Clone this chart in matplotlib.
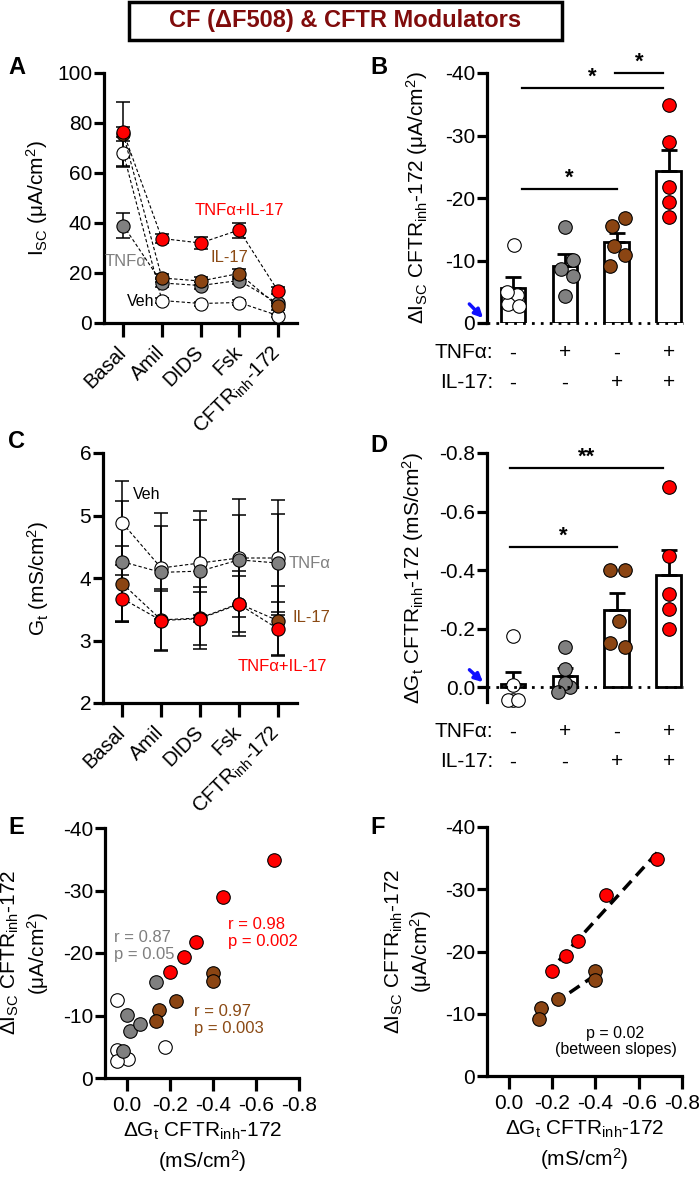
import numpy as np
import matplotlib
matplotlib.use('Agg')
import matplotlib.pyplot as plt
from matplotlib.patches import Rectangle

plt.rcParams['font.family'] = ['Liberation Sans', 'DejaVu Sans']
plt.rcParams['mathtext.default'] = 'regular'
plt.rcParams['axes.unicode_minus'] = False

RED = '#ff0000'
BROWN = '#8b4513'
GRAY = '#808080'
TXT_BROWN = '#8b4a14'
TXT_GRAY = '#7f7f7f'
colors = ['white', GRAY, BROWN, RED]

steps = ['Basal', 'Amil', 'DIDS', 'Fsk', 'CFTR$_{inh}$-172']

# panel A: Isc (uA/cm2), mean and sem per step
isc_veh = [68, 9, 7.8, 8.2, 3]
isc_tnf = [39, 16, 15, 17, 8]
isc_il17 = [75.5, 18, 16.8, 19.8, 6.7]
isc_both = [76.3, 33.8, 32, 37.2, 13]
isc_veh_sem = [5, 1, 0.8, 1, 0.5]
isc_tnf_sem = [5, 1.5, 1.5, 1.5, 1]
isc_il17_sem = [13, 1.5, 1.5, 2, 1.5]
isc_both_sem = [2, 1.9, 2.3, 3, 1.5]

# panel C: Gt (mS/cm2)
gt_veh = [4.88, 4.16, 4.24, 4.32, 4.32]
gt_tnf = [4.26, 4.09, 4.11, 4.29, 4.24]
gt_il17 = [3.91, 3.33, 3.36, 3.59, 3.32]
gt_both = [3.67, 3.32, 3.35, 3.58, 3.19]
gt_veh_sem = [0.67, 0.88, 0.83, 0.95, 0.92]
gt_tnf_sem = [0.97, 0.74, 0.82, 0.72, 0.79]
gt_il17_sem = [0.6, 0.5, 0.5, 0.52, 0.55]
gt_both_sem = [0.38, 0.47, 0.42, 0.45, 0.43]

# individual inserts: delta Isc and delta Gt after CFTRinh-172
d_isc_veh = [-12.5, -4.5, -3.0, -2.7, -5.0]
d_isc_tnf = [-15.3, -10.1, -7.6, -8.6, -4.3]
d_isc_il17 = [-16.8, -15.5, -12.4, -10.9, -9.2]
d_isc_both = [-34.9, -29.0, -21.7, -19.3, -16.9]
d_gt_veh = [0.043, 0.043, -0.008, 0.043, -0.177]
d_gt_tnf = [-0.138, 0.0, -0.015, -0.062, 0.015]
d_gt_il17 = [-0.40, -0.40, -0.228, -0.151, -0.138]
d_gt_both = [-0.685, -0.449, -0.32, -0.266, -0.20]

tnf_signs = ['-', '+', '-', '+']
il17_signs = ['-', '-', '+', '+']

# horizontal scatter of dots in bar panels
jit_b = [[0.02, 0.08, -0.10, 0.12, -0.12], [0.0, 0.16, 0.16, -0.08, 0.0],
         [0.16, -0.10, -0.06, 0.16, -0.13], [0, 0, 0, 0, 0]]
jit_d = [[0.0, -0.10, 0.0, 0.10, 0.0], [0.0, 0.10, 0.0, 0.0, -0.13],
         [-0.13, 0.16, 0.03, -0.13, 0.16], [0, 0, 0, 0, 0]]

FS = 15
W, H = 700, 1181
fig = plt.figure(figsize=(7, 11.81), dpi=100)


def ax_px(l, t, r, b):
    return fig.add_axes([l / W, 1 - b / H, (r - l) / W, (b - t) / H])


def style(ax, bottom=True):
    ax.spines['top'].set_visible(False)
    ax.spines['right'].set_visible(False)
    ax.spines['left'].set_linewidth(2.3)
    ax.spines['bottom'].set_linewidth(2.3)
    if not bottom:
        ax.spines['bottom'].set_visible(False)
    ax.tick_params(width=2.3, length=7, labelsize=FS, direction='out', pad=1.5)


# title
fig.add_artist(Rectangle((129 / W, 1 - 40 / H), 433 / W, 38 / H, transform=fig.transFigure,
                         fc='white', ec='black', lw=2.5))
fig.text(345 / W, 1 - 21 / H, 'CF (ΔF508) & CFTR Modulators', ha='center', va='center',
         fontsize=17, fontweight='bold', color='#800c0c')

# panel letters
for lt, (px, py) in zip('ABCDEF', [(8, 67), (370, 67), (8, 442), (370, 445), (8, 827), (370, 827)]):
    fig.text(px / W, 1 - py / H, lt, fontsize=17, fontweight='bold', va='center')


def line_panel(ax, means, sems):
    x = np.arange(len(steps))
    for i, (m, s, c) in enumerate(zip(means, sems, colors)):
        ax.errorbar(x, m, yerr=s, fmt='none', ecolor='black', elinewidth=1.1,
                    capsize=5, capthick=1.1, zorder=2)
        ax.plot(x, m, ls=(0, (3, 2)), color='black', lw=0.8, zorder=3 + i)
        ax.plot(x, m, 'o', ms=9.5, mfc=c, mec='black', mew=0.8, zorder=3 + i)
    ax.set_xlim(-0.5, 4.5)
    ax.set_xticks(x)
    ax.set_xticklabels(steps, rotation=45, ha='right', va='center', rotation_mode='anchor')
    style(ax)
    ax.tick_params(axis='x', length=10, pad=9, labelsize=14.5)


# ---- A
axA = ax_px(104, 73, 297, 323)
line_panel(axA, [isc_veh, isc_tnf, isc_il17, isc_both],
           [isc_veh_sem, isc_tnf_sem, isc_il17_sem, isc_both_sem])
axA.set_ylim(0, 100)
axA.set_yticks(range(0, 101, 20))
axA.set_ylabel('I$_{SC}$ (μA/cm$^2$)', fontsize=FS)
axA.yaxis.set_label_coords(-0.28, 0.5)
axA.text(3.0, 45, 'TNFα+IL-17', color=RED, fontsize=12, ha='center', va='center')
axA.text(2.76, 26, 'IL-17', color=TXT_BROWN, fontsize=12, ha='center', va='center')
axA.text(0.05, 24.4, 'TNFα', color=TXT_GRAY, fontsize=12, ha='center', va='center')
axA.text(0.44, 8.8, 'Veh', color='black', fontsize=11.5, ha='center', va='center')

# ---- C
axC = ax_px(103, 453, 297, 703)
line_panel(axC, [gt_veh, gt_tnf, gt_il17, gt_both],
           [gt_veh_sem, gt_tnf_sem, gt_il17_sem, gt_both_sem])
axC.set_ylim(2, 6)
axC.set_yticks(range(2, 7))
axC.set_ylabel('G$_t$ (mS/cm$^2$)', fontsize=FS)
axC.yaxis.set_label_coords(-0.27, 0.5)
axC.text(0.62, 5.33, 'Veh', color='black', fontsize=11.5, ha='center', va='center')
axC.text(4.82, 4.24, 'TNFα', color=TXT_GRAY, fontsize=12, ha='center', va='center')
axC.text(4.87, 3.36, 'IL-17', color=TXT_BROWN, fontsize=12, ha='center', va='center')
axC.text(4.12, 2.58, 'TNFα+IL-17', color=RED, fontsize=12, ha='center', va='center')


def bar_panel(ax, vals, jit):
    xb = np.arange(4)
    means = np.array([np.mean(v) for v in vals])
    sems = np.array([np.std(v, ddof=1) / np.sqrt(len(v)) for v in vals])
    ax.bar(xb, means, width=0.48, color='white', edgecolor='black', lw=2, zorder=2)
    ax.errorbar(xb, means, yerr=[sems, np.zeros(4)], fmt='none', ecolor='black',
                elinewidth=2, capsize=6, capthick=2, zorder=3)
    for i, (v, c) in enumerate(zip(vals, colors)):
        ax.scatter(xb[i] + np.array(jit[i]), v, s=95, c=c, edgecolors='black',
                   linewidths=0.8, zorder=4, clip_on=False)
    ax.axhline(0, ls=(0, (1, 2.2)), color='black', lw=2, zorder=5, clip_on=False)
    ax.set_xlim(-0.5, 3.27)
    ax.set_xticks([])
    style(ax, bottom=False)
    for i in range(4):
        ax.text(xb[i], -0.12, tnf_signs[i], transform=ax.get_xaxis_transform(),
                ha='center', va='center', fontsize=FS)
        ax.text(xb[i], -0.24, il17_signs[i], transform=ax.get_xaxis_transform(),
                ha='center', va='center', fontsize=FS)
    ax.text(0.03, -0.12, 'TNFα:', transform=ax.transAxes, ha='right', va='center', fontsize=FS)
    ax.text(0.03, -0.24, 'IL-17:', transform=ax.transAxes, ha='right', va='center', fontsize=FS)


def sig(ax, x0, x1, y, label):
    ax.plot([x0, x1], [y, y], color='black', lw=1.6, clip_on=False)
    ax.text((x0 + x1) / 2, y, label, ha='center', va='bottom', fontsize=16,
            fontweight='bold')


# ---- B
axB = ax_px(487, 73, 683, 323)
bar_panel(axB, [d_isc_veh, d_isc_tnf, d_isc_il17, d_isc_both], jit_b)
axB.set_ylim(0, -40)
axB.set_yticks([0, -10, -20, -30, -40])
axB.set_ylabel('ΔI$_{SC}$ CFTR$_{inh}$-172 (μA/cm$^2$)', fontsize=FS)
axB.yaxis.set_label_coords(-0.29, 0.5)
sig(axB, 0.17, 2.0, -21.5, '*')
sig(axB, 0.17, 2.88, -37.6, '*')
sig(axB, 1.96, 2.88, -40, '*')
axB.annotate('', xy=(-0.01, 0.012), xytext=(-0.10, 0.084), xycoords='axes fraction',
             arrowprops=dict(arrowstyle='-|>', color='#1010ff', lw=2.5, mutation_scale=12))

# ---- D
axD = ax_px(487, 453, 683, 702)
bar_panel(axD, [d_gt_veh, d_gt_tnf, d_gt_il17, d_gt_both], jit_d)
axD.set_ylim(0.05, -0.8)
axD.set_yticks([0, -0.2, -0.4, -0.6, -0.8])
axD.set_yticklabels(['%.1f' % t for t in [0, -0.2, -0.4, -0.6, -0.8]])
axD.set_ylabel('ΔG$_t$ CFTR$_{inh}$-172 (mS/cm$^2$)', fontsize=FS)
axD.yaxis.set_label_coords(-0.31, 0.5)
sig(axD, -0.06, 2.0, -0.48, '*')
sig(axD, -0.06, 2.88, -0.75, '**')
axD.annotate('', xy=(-0.01, 0.072), xytext=(-0.10, 0.137), xycoords='axes fraction',
             arrowprops=dict(arrowstyle='-|>', color='#1010ff', lw=2.5, mutation_scale=12))


def corr_axes(ax):
    ax.set_xlim(0.1, -0.8)
    ax.set_ylim(0, -40)
    ax.set_xticks([0, -0.2, -0.4, -0.6, -0.8])
    ax.set_xticklabels(['%.1f' % t for t in [0, -0.2, -0.4, -0.6, -0.8]])
    ax.set_yticks([0, -10, -20, -30, -40])
    style(ax)
    ax.tick_params(axis='x', length=9, pad=4)
    ax.set_xlabel('ΔG$_t$ CFTR$_{inh}$-172\n(mS/cm$^2$)', fontsize=FS, linespacing=1.3)
    ax.set_ylabel('ΔI$_{SC}$ CFTR$_{inh}$-172\n(μA/cm$^2$)', fontsize=FS, linespacing=1.2)


# ---- E
axE = ax_px(105, 828, 299, 1078)
for gx, gy, c in zip([d_gt_veh, d_gt_tnf, d_gt_il17, d_gt_both],
                     [d_isc_veh, d_isc_tnf, d_isc_il17, d_isc_both], colors):
    axE.scatter(gx, gy, s=95, c=c, edgecolors='black', linewidths=0.8, zorder=3, clip_on=False)
corr_axes(axE)
axE.yaxis.set_label_coords(-0.28, 0.5)
axE.text(0.056, -21.1, 'r = 0.87\np = 0.05', color=TXT_GRAY, fontsize=12, va='center', linespacing=1.15)
axE.text(-0.47, -23.2, 'r = 0.98\np = 0.002', color=RED, fontsize=12, va='center', linespacing=1.15)
axE.text(-0.312, -9.3, 'r = 0.97\np = 0.003', color=TXT_BROWN, fontsize=12, va='center', linespacing=1.15)

# ---- F
axF = ax_px(487, 827, 682, 1076)
for gx, gy, c in zip([d_gt_il17, d_gt_both], [d_isc_il17, d_isc_both], [BROWN, RED]):
    k, b0 = np.polyfit(gx, gy, 1)
    xs = np.array([min(gx), max(gx)])
    axF.plot(xs, k * xs + b0, ls=(0, (3.5, 2)), color='black', lw=2.5, zorder=2)
    axF.scatter(gx, gy, s=95, c=c, edgecolors='black', linewidths=0.8, zorder=3, clip_on=False)
corr_axes(axF)
axF.yaxis.set_label_coords(-0.27, 0.5)
axF.text(-0.493, -5.6, 'p = 0.02\n(between slopes)', color='black', fontsize=11.5,
         ha='center', va='center', linespacing=1.1)

fig.savefig('out.png', dpi=100)
